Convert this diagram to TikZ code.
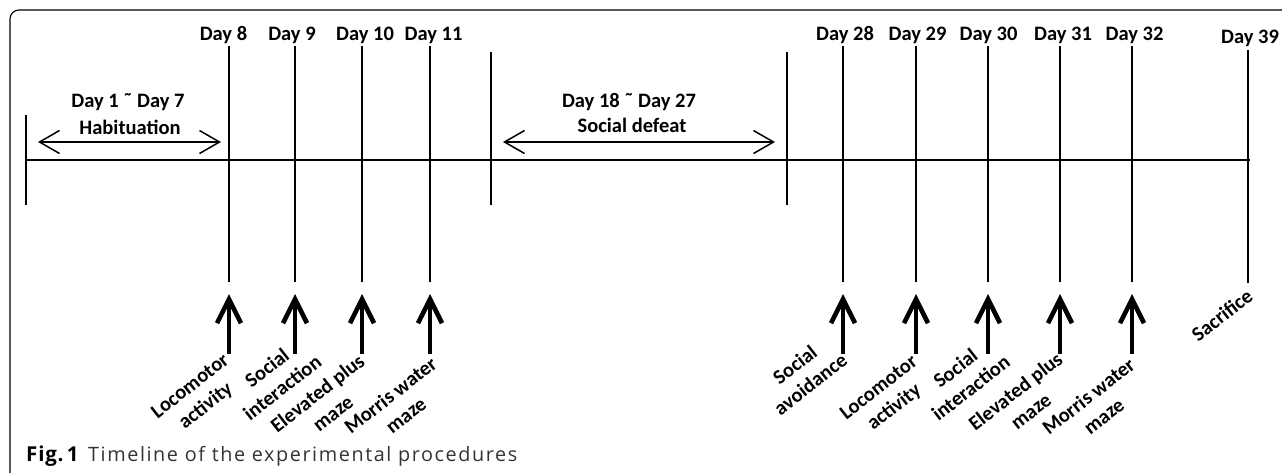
\documentclass[tikz,border=0pt]{standalone}
\usepackage{fontspec}
\setmainfont{Carlito}
\newfontfamily\capfont[LetterSpace=8]{Open Sans}
\newfontfamily\fignofont[LetterSpace=4]{Open Sans}
\usetikzlibrary{arrows.meta}
\begin{document}
\begin{tikzpicture}[x=1pt,y=-1pt,
  lbl/.style={font=\bfseries\fontsize{20.5}{25}\selectfont, inner sep=0pt},
  rlbl/.style={lbl, rotate=38, align=center},
  tick/.style={line width=1.9pt},
  axis/.style={line width=2.6pt},
  period/.style={line width=1.5pt, {Straight Barb[length=20pt,width=23pt]}-{Straight Barb[length=20pt,width=23pt]}},
  uparrow/.style={line width=4.6pt, -{Straight Barb[length=24pt,width=24pt]}},
  frame/.style={line width=1.1pt, rounded corners=9pt},
  capstyle/.style={anchor=base west, inner sep=0pt, font=\capfont\fontsize{19.8}{22}\selectfont}
]
\useasboundingbox (0,0) rectangle (1282,472);
\draw[frame] (10,480) -- (10,10) -- (1290,10);

% axis
\coordinate (axL) at (26,160);
\coordinate (axR) at (1250,160);
\draw[axis] (axL) -- (axR);

% period bars
\foreach \n/\x in {s/26,a/491,b/787}{
  \coordinate (\n top) at (\x,115);
  \coordinate (\n bot) at (\x,205);
}
\coordinate (atop) at (491,52);
\coordinate (btop) at (787,52);
\draw[tick] (stop) -- (sbot);
\draw[tick] (atop) -- (abot);
\draw[tick] (btop) -- (bbot);

% day ticks
\foreach \n/\x in {8/229,9/295,10/362,11/430,28/843,29/916,30/988,31/1060,32/1132}{
  \coordinate (t\n top) at (\x,46);
  \coordinate (t\n bot) at (\x,282);
  \draw[tick] (t\n top) -- (t\n bot);
  \coordinate (u\n bot) at (\x,354);
  \coordinate (u\n tip) at (\x,294);
  \draw[uparrow] (u\n bot) -- (u\n tip);
}
\coordinate (t39top) at (1248,50);
\coordinate (t39bot) at (1248,283);
\draw[tick] (t39top) -- (t39bot);

% day labels
\foreach \n/\x in {8/223.5,9/292,10/365,11/433.5,28/845,29/917.5,30/988.5,31/1063,32/1134.5}{
  \node[lbl, anchor=base] (d\n) at (\x,40) {Day \n};
}
\node[lbl, anchor=base] (d39) at (1250,43.5) {Day 39};

% periods
\node[lbl, anchor=base] (p1a) at (128,107) {Day 1 \char"02DC\ Day 7};
\node[lbl, anchor=base] (p1b) at (130,134) {Habituation};
\coordinate (h1) at (38,142);
\coordinate (h2) at (221,142);
\draw[period] (h1) -- (h2);

\node[lbl, anchor=base] (p2a) at (629,107) {Day 18 \char"02DC\ Day 27};
\node[lbl, anchor=base] (p2b) at (632,132) {Social defeat};
\coordinate (s1) at (503,142);
\coordinate (s2) at (775,142);
\draw[period] (s1) -- (s2);

% rotated labels
\node[rlbl] (l8) at (198.5,396.7) {Locomotor\\activity};
\node[rlbl] (l9) at (274.5,377.5) {Social\\interaction};
\node[rlbl] (l10) at (325,403) {Elevated plus\\maze};
\node[rlbl] (l11) at (398,405) {Morris water\\maze};
\node[rlbl] (l28) at (802.5,374.5) {Social\\avoidance};
\node[rlbl] (l29) at (887,398) {Locomotor\\activity};
\node[rlbl] (l30) at (963,378) {Social\\interaction};
\node[rlbl] (l31) at (1023,401) {Elevated plus\\maze};
\node[rlbl] (l32) at (1096,406) {Morris water\\maze};
\node[rlbl] (l39) at (1222,315) {Sacrifice};

% caption
\node[capstyle, font=\fignofont\bfseries\fontsize{20.5}{22}\selectfont] (figno) at (26,461) {Fig.\,1};
\node[capstyle, text=black!80] (figcap) at (88,461) {Timeline of the experimental procedures};
\end{tikzpicture}
\end{document}
